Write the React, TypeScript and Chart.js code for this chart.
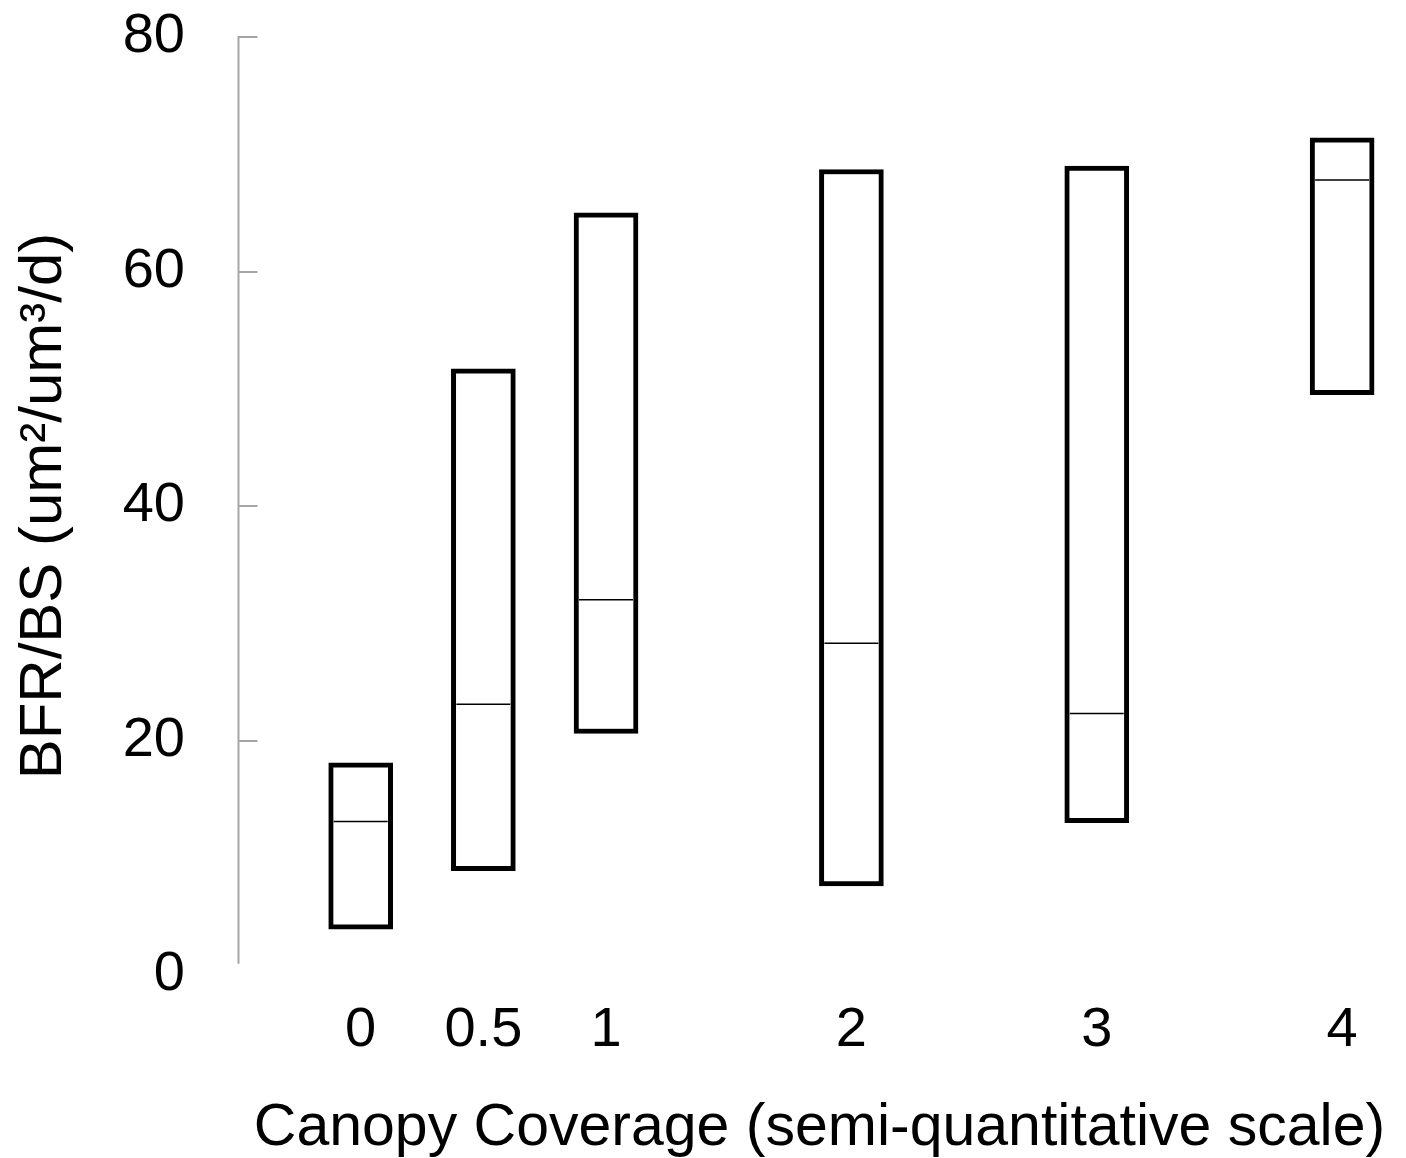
import React, { useEffect, useRef } from "react";
import { Chart, registerables } from "chart.js";

Chart.register(...registerables);

const categories = [0, 0.5, 1, 2, 3, 4];
const lowValues = [3.9, 8.9, 20.6, 7.6, 13.0, 49.5];
const highValues = [18.1, 51.7, 65.0, 68.7, 69.0, 71.4];
const medianValues = [13.1, 23.1, 32.0, 28.3, 22.3, 67.8];
const xTickValues = [0, 0.5, 1, 2, 3, 4];
const yTickValues = [0, 20, 40, 60, 80];
const axisBottomValue = 0.95;

const FONT = "'Liberation Sans', Arial, sans-serif";

const axisPlugin = {
  id: "customAxis",
  beforeDatasetsDraw(chart: any) {
    const { ctx, chartArea, scales } = chart;
    const y = scales.y;
    const x0 = Math.round(chartArea.left) + 0.5;
    ctx.save();
    ctx.strokeStyle = "#a6a6a6";
    ctx.lineWidth = 2;
    ctx.beginPath();
    ctx.moveTo(x0, y.getPixelForValue(yTickValues[yTickValues.length - 1]) - 1);
    ctx.lineTo(x0, y.getPixelForValue(axisBottomValue));
    for (const v of yTickValues) {
      if (v < axisBottomValue) continue;
      const py = Math.round(y.getPixelForValue(v));
      ctx.moveTo(x0, py);
      ctx.lineTo(x0 + 19, py);
    }
    ctx.stroke();
    ctx.restore();
  },
};

export default function App() {
  const canvasRef = useRef<HTMLCanvasElement | null>(null);

  useEffect(() => {
    const canvas = canvasRef.current;
    if (!canvas) return;
    const chart = new Chart(canvas, {
      type: "bar",
      data: {
        datasets: [
          {
            type: "line",
            data: categories.map((c, i) => ({ x: c, y: medianValues[i] })),
            showLine: false,
            pointStyle: "line",
            pointRadius: 27,
            pointHoverRadius: 27,
            borderColor: "#000",
            borderWidth: 1.5,
            order: 0,
          } as any,
          {
            type: "bar",
            data: categories.map((c, i) => ({ x: c, y: [lowValues[i], highValues[i]] })),
            backgroundColor: "#ffffff",
            borderColor: "#000000",
            borderWidth: 5,
            borderSkipped: false,
            barThickness: 64,
            order: 1,
          } as any,
        ],
      },
      options: {
        responsive: false,
        animation: false,
        devicePixelRatio: 1,
        layout: { autoPadding: false, padding: { top: 37, right: 5, bottom: 0, left: 0 } },
        plugins: { legend: { display: false }, tooltip: { enabled: false } },
        scales: {
          x: {
            type: "linear",
            offset: false,
            min: -0.5,
            max: 4.24,
            grid: { display: false, drawTicks: false, offset: false },
            border: { display: false },
            afterBuildTicks: (scale: any) => {
              scale.ticks = xTickValues.map((v) => ({ value: v }));
            },
            afterFit: (scale: any) => {
              scale.height = 183;
              scale.paddingLeft = 0;
              scale.paddingRight = 0;
            },
            ticks: {
              autoSkip: false,
              maxRotation: 0,
              padding: 22,
              color: "#000",
              font: { family: FONT, size: 56 },
              callback: (v: any) => String(v),
            },
            title: {
              display: true,
              text: "Canopy Coverage (semi-quantitative scale)",
              color: "#000",
              font: { family: FONT, size: 59, lineHeight: 1 },
              padding: { top: 0, bottom: 0 },
            },
          },
          y: {
            type: "linear",
            min: 0,
            max: 80,
            grid: { display: false, drawTicks: false },
            border: { display: false },
            afterBuildTicks: (scale: any) => {
              scale.ticks = yTickValues.map((v) => ({ value: v }));
            },
            afterFit: (scale: any) => {
              scale.width = 238;
              scale.paddingTop = 0;
              scale.paddingBottom = 0;
            },
            ticks: {
              padding: 53,
              color: "#000",
              font: { family: FONT, size: 56 },
            },
            title: {
              display: true,
              text: "BFR/BS (um²/um³/d)",
              color: "#000",
              font: { family: FONT, size: 60, lineHeight: 1 },
              padding: { top: 14, bottom: 0 },
            },
          },
        },
      },
      plugins: [axisPlugin],
    });
    return () => chart.destroy();
  }, []);

  return (
    <div style={{ position: "absolute", left: 0, top: 0, width: 1406, height: 1158, background: "#fff" }}>
      <canvas ref={canvasRef} width={1406} height={1158} style={{ display: "block" }} />
    </div>
  );
}
